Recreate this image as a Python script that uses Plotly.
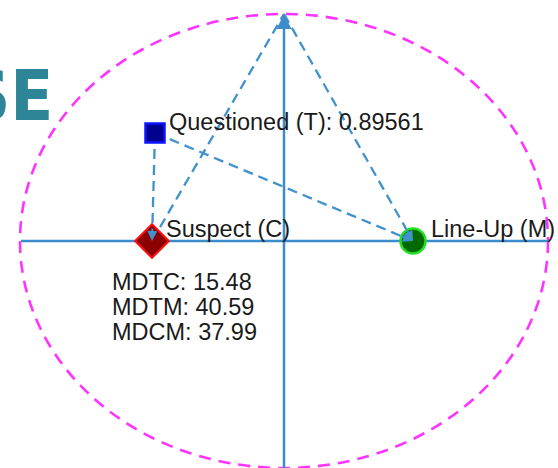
import plotly.graph_objects as go

# ---- data (units = distance from origin) ----
point_names = ["Questioned (T)", "Suspect (C)", "Line-Up (M)"]
point_x = [-129, -132, 129]
point_y = [108, 0, 0]
apex_x, apex_y = 0, 227
ellipse_a, ellipse_b = 264, 227
similarity_T = 0.89561
metric_names = ["MDTC", "MDTM", "MDCM"]
metric_values = [15.48, 40.59, 37.99]

T = (point_x[0], point_y[0])
C = (point_x[1], point_y[1])
M = (point_x[2], point_y[2])
A = (apex_x, apex_y)

axis_col = "#3a8ccb"
dash_col = "#3f92cc"
txt_col = "#1a1a1a"
FONT = "Liberation Sans, Arial, sans-serif"
FS = 23.5

fig = go.Figure()

# dashed connecting lines
segments = [(T, C), (T, M), (C, A), (A, M)]
for p, q in segments:
    fig.add_trace(go.Scatter(
        x=[p[0], q[0]], y=[p[1], q[1]], mode="lines",
        line=dict(color=dash_col, width=2.3, dash="10px,6px"),
        hoverinfo="skip", showlegend=False))

# markers
fig.add_trace(go.Scatter(
    x=[T[0]], y=[T[1]], mode="markers",
    marker=dict(symbol="square", size=19, color="#00008f",
                line=dict(color="#0a14ff", width=2.5)),
    showlegend=False, hoverinfo="skip"))
fig.add_trace(go.Scatter(
    x=[C[0]], y=[C[1]], mode="markers",
    marker=dict(symbol="diamond", size=26, color="#8b0000",
                line=dict(color="#ff1010", width=2)),
    showlegend=False, hoverinfo="skip"))
fig.add_trace(go.Scatter(
    x=[M[0]], y=[M[1]], mode="markers",
    marker=dict(symbol="circle", size=25, color="#006a00",
                line=dict(color="#22e022", width=2.5)),
    showlegend=False, hoverinfo="skip"))

shapes = [
    dict(type="circle", xref="x", yref="y",
         x0=-ellipse_a, x1=ellipse_a, y0=-ellipse_b, y1=ellipse_b,
         line=dict(color="#ff33ff", width=2.6, dash="12px,8px"), layer="below"),
    dict(type="line", xref="x", yref="y", x0=-ellipse_a + 1, x1=ellipse_a, y0=0, y1=0,
         line=dict(color=axis_col, width=2.5), layer="below"),
]

annotations = []
# vertical axis with arrow
annotations.append(dict(x=apex_x, y=apex_y, ax=apex_x, ay=-ellipse_b - 20,
                        xref="x", yref="y", axref="x", ayref="y",
                        showarrow=True, arrowhead=2, arrowsize=1.2, arrowwidth=2.5,
                        arrowcolor=axis_col, text=""))
# arrowheads at ends of dashed lines
for p, q in [(T, C), (T, M), (A, M)]:
    dx, dy = q[0] - p[0], q[1] - p[1]
    L = (dx * dx + dy * dy) ** 0.5
    annotations.append(dict(x=q[0], y=q[1], ax=q[0] - dx / L * 14, ay=q[1] - dy / L * 14,
                            xref="x", yref="y", axref="x", ayref="y",
                            showarrow=True, arrowhead=2, arrowsize=1.0, arrowwidth=2,
                            arrowcolor=dash_col, text=""))

# labels
annotations.append(dict(x=T[0] + 12, y=T[1] + 11, xref="x", yref="y",
                        text=f"{point_names[0]}: {similarity_T}", showarrow=False,
                        xanchor="left", yanchor="middle",
                        font=dict(family=FONT, size=FS, color=txt_col)))
annotations.append(dict(x=C[0] + 12, y=C[1] + 12, xref="x", yref="y",
                        text=point_names[1], showarrow=False,
                        xanchor="left", yanchor="middle",
                        font=dict(family=FONT, size=FS, color=txt_col)))
annotations.append(dict(x=M[0] + 16, y=M[1] + 12, xref="x", yref="y",
                        text=point_names[2], showarrow=False,
                        xanchor="left", yanchor="middle",
                        font=dict(family=FONT, size=FS, color=txt_col)))
for i, (n, v) in enumerate(zip(metric_names, metric_values)):
    annotations.append(dict(x=C[0] - 42, y=C[1] - 41 - 25 * i, xref="x", yref="y",
                            text=f"{n}: {v:.2f}", showarrow=False,
                            xanchor="left", yanchor="middle",
                            font=dict(family=FONT, size=FS, color=txt_col)))

# partial title text at the left edge
annotations.append(dict(x=0.099, y=0.795, xref="paper", yref="paper",
                        text="<b>SE</b>", showarrow=False,
                        xanchor="right", yanchor="middle",
                        font=dict(family="DejaVu Sans Condensed, DejaVu Sans", size=70,
                                  color="#2e8597")))

fig.update_layout(
    width=558, height=468,
    margin=dict(l=0, r=0, t=0, b=0),
    paper_bgcolor="white", plot_bgcolor="white",
    xaxis=dict(range=[-284, 274], visible=False, fixedrange=True),
    yaxis=dict(range=[-227, 241], visible=False, fixedrange=True),
    shapes=shapes, annotations=annotations,
    showlegend=False,
)

fig.write_html("out.html", config={"displayModeBar": False},
               post_script="document.body.style.margin='0';document.body.style.overflow='hidden';")
